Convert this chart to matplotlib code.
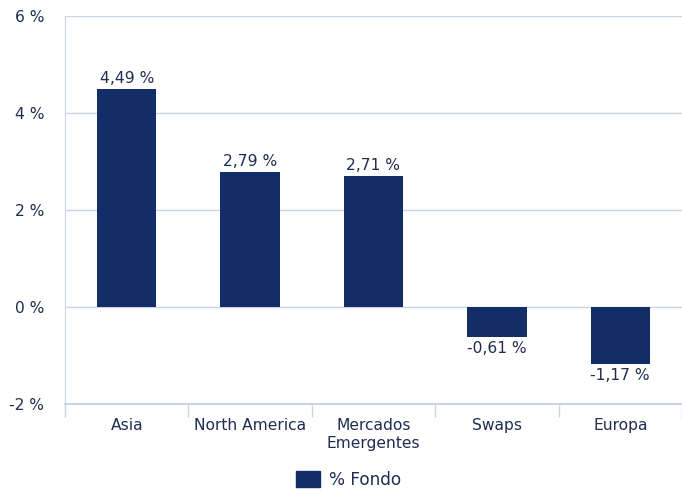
import numpy as np
import matplotlib.pyplot as plt
from matplotlib.patches import Patch

categories = ["Asia", "North America", "Mercados\nEmergentes", "Swaps", "Europa"]
values = [4.49, 2.79, 2.71, -0.61, -1.17]
yticks = [-2, 0, 2, 4, 6]

BAR = "#132d68"
GRID = "#c9d5e6"
TEXT = "#1f2d4f"
FS = 11.2

plt.rcParams["font.family"] = ["DejaVu Sans"]

fig = plt.figure(figsize=(6.82, 4.91), dpi=100)
ax = fig.add_axes([65 / 682, 1 - 404 / 491, 1 - 65 / 682, (404 - 16) / 491])

x = np.arange(len(categories))
ax.bar(x, values, width=0.48, color=BAR, zorder=3)

for xi, v in zip(x, values):
    lab = f"{v:.2f} %".replace(".", ",")
    if v >= 0:
        ax.annotate(lab, (xi, v), xytext=(0, 2), textcoords="offset points",
                    ha="center", va="bottom", fontsize=FS, color=TEXT)
    else:
        ax.annotate(lab, (xi, v), xytext=(0, -3), textcoords="offset points",
                    ha="center", va="top", fontsize=FS, color=TEXT)

ax.set_xlim(-0.5, len(categories) - 0.5)
ax.set_ylim(-2, 6)
ax.set_yticks(yticks)
ax.set_yticklabels([f"{t} %" for t in yticks], fontsize=FS, color=TEXT)
ax.tick_params(axis="y", length=0, pad=15)
ax.yaxis.grid(True, color=GRID, linewidth=1, zorder=0)

ax.set_xticks(x)
ax.set_xticklabels(categories, fontsize=FS, color=TEXT, linespacing=1.25)
ax.tick_params(axis="x", length=0, pad=10)
ax.set_xticks(np.arange(-0.5, len(categories)), minor=True)
ax.tick_params(axis="x", which="minor", length=9, width=1, color=GRID)

for s in ["top", "right"]:
    ax.spines[s].set_visible(False)
ax.spines["left"].set_color(GRID)
ax.spines["left"].set_bounds(-2.25, 6)
ax.spines["bottom"].set_color(GRID)
ax.spines["bottom"].set_linewidth(1.5)

fig.legend(handles=[Patch(color=BAR, label="% Fondo")], loc="lower center",
           bbox_to_anchor=(0.511, -0.027), frameon=False, fontsize=12.2,
           handlelength=1.4, handleheight=1.1, handletextpad=0.55, labelcolor=TEXT)

fig.savefig("out.png", dpi=100)
